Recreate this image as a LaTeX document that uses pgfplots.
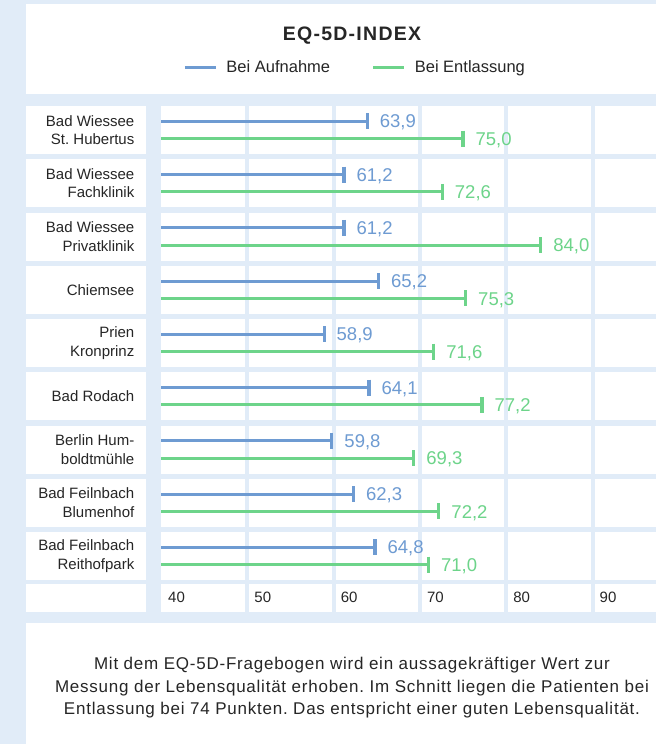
\documentclass[border=0pt]{standalone}
\usepackage{pgfplots}
\pgfplotsset{compat=1.18}
\usepackage{pgfplotstable}
\usepackage{fontspec}
\setmainfont{Liberation Sans}
\frenchspacing
\definecolor{bgblue}{HTML}{E1ECF8}
\definecolor{barblue}{HTML}{6E9BD2}
\definecolor{bargreen}{HTML}{6DD48A}
\definecolor{txt}{HTML}{262626}

\pgfplotstableread{
k v lab
1 63.9 63,9
2 61.2 61,2
3 61.2 61,2
4 65.2 65,2
5 58.9 58,9
6 64.1 64,1
7 59.8 59,8
8 62.3 62,3
9 64.8 64,8
}\aufnahme
\pgfplotstableread{
k v lab
1 75.0 75,0
2 72.6 72,6
3 84.0 84,0
4 75.3 75,3
5 71.6 71,6
6 77.2 77,2
7 69.3 69,3
8 72.2 72,2
9 71.0 71,0
}\entlassung

\begin{document}
\begin{tikzpicture}[x=1pt,y=1pt]
\fill[bgblue] (0,0) rectangle (656,-744);
\useasboundingbox (0,0) rectangle (656,-744);
% header panel
\fill[white] (25.5,-4) rectangle (656,-94);
% row cells
\foreach \r in {0,...,8}{
  \pgfmathsetmacro{\top}{106+53.25*\r}
  \pgfmathsetmacro{\bot}{\top+48}
  \fill[white] (25.5,-\top) rectangle (146,-\bot);
  \foreach \a/\b in {161/245.3,249.3/331.6,335.6/417.9,421.9/504.2,508.2/590.5,594.5/656}{
    \fill[white] (\a,-\top) rectangle (\b,-\bot);
  }
}
% tick row
\fill[white] (25.5,-584) rectangle (146,-611.7);
\foreach \a/\b in {161/245.3,249.3/331.6,335.6/417.9,421.9/504.2,508.2/590.5,594.5/656}{
  \fill[white] (\a,-584) rectangle (\b,-611.7);
}
% bottom panel
\fill[white] (25.5,-623) rectangle (656,-744);

% title
\node[anchor=base, inner sep=0pt, text=txt, font=\fontsize{19.5}{21}\selectfont\bfseries\addfontfeature{LetterSpace=6.5}] at (352,-40.7) {EQ-5D-INDEX};

\begin{axis}[
  at={(161pt,-582.6pt)}, anchor=south west,
  scale only axis, width=495pt, height=479.25pt,
  xmin=40, xmax=97.36, ymin=0.5, ymax=9.5, y dir=reverse,
  axis line style={draw=none}, tick style={draw=none},
  xtick={40,50,60,70,80,90},
  xticklabels={40,50,60,70,80,90},
  xticklabel style={anchor=west, inner sep=0pt, xshift=7pt, yshift=-15.1pt, font=\fontsize{15}{17}\selectfont, text=txt},
  ytick={1,...,9},
  yticklabels={{Bad Wiessee\\St. Hubertus},{Bad Wiessee\\Fachklinik},{Bad Wiessee\\Privatklinik},{Chiemsee},{Prien\\Kronprinz},{Bad Rodach},{Berlin Hum-\\boldtmühle},{Bad Feilnbach\\Blumenhof},{Bad Feilnbach\\Reithofpark}},
  yticklabel style={align=right, anchor=east, inner sep=0pt, xshift=-26.5pt, font=\fontsize{15}{18.3}\selectfont, text=txt},
  legend image code/.code={\draw[#1, line width=3pt] (0pt,0pt) -- (31pt,0pt);},
  legend columns=2,
  legend style={at={(axis description cs:0.045,1.0745)}, anchor=west, draw=none, fill=none, inner sep=0pt,
    font=\fontsize{16.5}{18}\selectfont, text=txt,
    nodes={inner sep=0pt},
    /tikz/every odd column/.style={column sep=9pt},
    /tikz/every even column/.style={column sep=41.7pt}},
  legend cell align=left,
]
\addlegendimage{barblue}
\addlegendentry{Bei Aufnahme}
\addlegendimage{bargreen}
\addlegendentry{Bei Entlassung}
\addplot[xcomb, draw=barblue, line width=3pt, mark=|, mark size=8pt, mark options={line width=3.2pt, draw=barblue},
  nodes near coords, point meta=explicit symbolic,
  nodes near coords style={anchor=base west, inner sep=0pt, xshift=11pt, yshift=-6.6pt, text=barblue, font=\fontsize{18.5}{20}\selectfont},
  forget plot]
  table[x=v, y expr=\thisrow{k}-0.163, meta=lab]{\aufnahme};
\addplot[xcomb, draw=bargreen, line width=3pt, mark=|, mark size=8pt, mark options={line width=3.2pt, draw=bargreen},
  nodes near coords, point meta=explicit symbolic,
  nodes near coords style={anchor=base west, inner sep=0pt, xshift=11pt, yshift=-6.6pt, text=bargreen, font=\fontsize{18.5}{20}\selectfont},
  forget plot]
  table[x=v, y expr=\thisrow{k}+0.163, meta=lab]{\entlassung};
\end{axis}

% bottom text
\begin{scope}[every node/.style={anchor=base, inner sep=0pt, text=txt, font=\fontsize{17}{20}\selectfont\addfontfeature{LetterSpace=4.5}}]
\node at (352,-669) {Mit dem EQ-5D-Fragebogen wird ein aussagekräftiger Wert zur};
\node at (352,-692.7) {Messung der Lebensqualität erhoben. Im Schnitt liegen die Patienten bei};
\node at (352,-714) {Entlassung bei 74 Punkten. Das entspricht einer guten Lebensqualität.};
\end{scope}
\end{tikzpicture}
\end{document}
